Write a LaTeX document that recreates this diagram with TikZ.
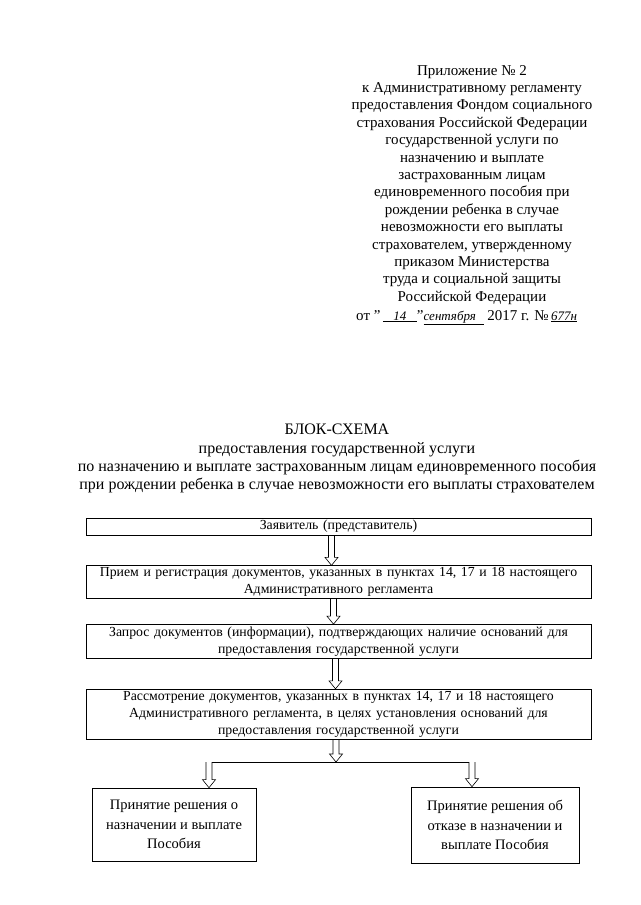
\documentclass[tikz,border=0pt]{standalone}
\usepackage{fontspec}
\setmainfont{Liberation Serif}
\usetikzlibrary{positioning,calc}

\begin{document}
\begin{tikzpicture}[x=1pt,y=-1pt,
    textbox/.style={draw=black, line width=0.7pt, inner sep=2pt, align=center, font=\fontsize{13.8}{17}\selectfont},
    widebox/.style={textbox, minimum width=505pt, text width=499pt},
    smallbox/.style={textbox, font=\fontsize{14.5}{19.5}\selectfont},
    headtext/.style={align=center, inner sep=0pt, font=\fontsize{15}{17.4}\selectfont},
    hollow/.style={line width=0.6pt, to path={let \p1=(\tikztostart), \p2=(\tikztotarget) in
        (\x1-3pt,\y1) -- (\x1-3pt,\y2+8pt) -- (\x1-6.5pt,\y2+8pt) -- (\x1,\y2) -- (\x1+6.5pt,\y2+8pt) -- (\x1+3pt,\y2+8pt) -- (\x1+3pt,\y1)}}
    ]
    \useasboundingbox (0,0) rectangle (640,905);

    %Header
    \node[headtext, anchor=north]       (appendix)      at (472,65) {Приложение № 2\\
        к Административному регламенту\\
        предоставления Фондом социального\\
        страхования Российской Федерации\\
        государственной услуги по\\
        назначению и выплате\\
        застрахованным лицам\\
        единовременного пособия при\\
        рождении ребенка в случае\\
        невозможности его выплаты\\
        страхователем, утвержденному\\
        приказом Министерства\\
        труда и социальной защиты\\
        Российской Федерации};
    \node[headtext, anchor=base west]   (order_date)    at (356,320) {от "\,\underline{\makebox[34pt]{\itshape\fontsize{13}{15}\selectfont 14}}"\underline{\makebox[60pt][l]{\itshape\fontsize{13}{15}\selectfont сентября}}\ 2017 г. №\,\underline{\itshape\fontsize{13}{15}\selectfont 677н}};

    %Title
    \node[headtext, anchor=north, font=\fontsize{16}{18.3}\selectfont] (title) at (337,424) {БЛОК-СХЕМА\\
        предоставления государственной услуги\\
        по назначению и выплате застрахованным лицам единовременного пособия\\
        при рождении ребенка в случае невозможности его выплаты страхователем};

    %Main boxes
    \node[widebox, minimum height=17pt]                         (applicant)     at (338.5,526.5) {Заявитель (представитель)};
    \node[widebox, minimum height=33pt, below=30pt of applicant] (reception)    {Прием и регистрация документов, указанных в пунктах 14, 17 и 18 настоящего\\ Административного регламента};
    \node[widebox, minimum height=34pt, below=25pt of reception] (request)      {Запрос документов (информации), подтверждающих наличие оснований для\\ предоставления государственной услуги};
    \node[widebox, minimum height=50pt, below=30pt of request]   (review)       {Рассмотрение документов, указанных в пунктах 14, 17 и 18 настоящего\\ Административного регламента, в целях установления оснований для\\ предоставления государственной услуги};

    %Decision boxes
    \node[smallbox, minimum width=164pt, minimum height=73pt]   (approval)      at (174,824.5) {Принятие решения о\\ назначении и выплате\\ Пособия};
    \node[smallbox, minimum width=168pt, minimum height=76pt]   (refusal)       at (495,825) {Принятие решения об\\ отказе в назначении и\\ выплате Пособия};

    %Fork
    \coordinate (fork)          at (336,762);
    \coordinate (fork_left)     at (209,762);
    \coordinate (fork_right)    at (472,762);

    %Arrows
    \draw[hollow]   ([xshift=-7pt]applicant.south) to ([xshift=-7pt]reception.north);
    \draw[hollow]   ([xshift=-5pt]reception.south) to ([xshift=-5pt]request.north);
    \draw[hollow]   ([xshift=-3pt]request.south) to ([xshift=-3pt]review.north);
    \draw[hollow]   (review.south -| fork) to (fork);
    \draw[hollow]   (fork_left) to (fork_left |- approval.north);
    \draw[hollow]   (fork_right) to (fork_right |- refusal.north);
    \draw[line width=0.6pt] ([xshift=3pt]fork_left) -- ([xshift=-3pt]fork_right);

\end{tikzpicture}
\end{document}
